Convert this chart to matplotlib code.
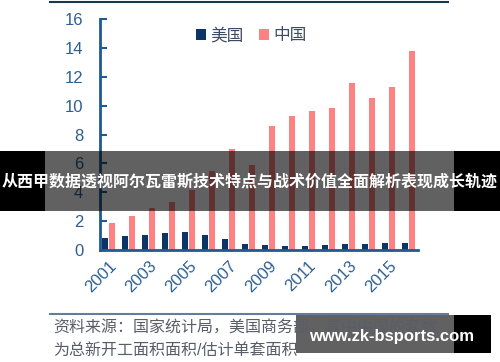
import numpy as np
import matplotlib.pyplot as plt
from matplotlib.patches import Rectangle
from matplotlib.lines import Line2D

plt.rcParams['font.family'] = ['Liberation Sans', 'Noto Sans CJK SC', 'DejaVu Sans']

# Data
years = list(range(2001, 2017))
usa = [0.83, 0.95, 1.06, 1.18, 1.25, 1.02, 0.74, 0.44, 0.35, 0.28, 0.27, 0.35, 0.40, 0.40, 0.47, 0.51]
china = [1.9, 2.33, 2.9, 3.35, 4.13, 5.5, 6.98, 5.89, 8.6, 9.32, 9.64, 9.83, 11.56, 10.52, 11.26, 13.76]
tick_years = [2001, 2003, 2005, 2007, 2009, 2011, 2013, 2015]
legend_labels = ['美国', '中国']
source_lines = ['资料来源：国家统计局，美国商务部，其中中国的套数',
                '为总新开工面积面积/估计单套面积']
banner_text = '从西甲数据透视阿尔瓦雷斯技术特点与战术价值全面解析表现成长轨迹'
url_text = 'www.zk-bsports.com'

navy = '#0a3566'
salmon = '#ff8282'
axis_col = '#1f5a93'
tick_col = '#2d5f93'

fig = plt.figure(figsize=(5, 3.62), dpi=100)
ax = fig.add_axes([0.2, 0.309, 0.636, 0.6385])

x = np.arange(len(years))
w = 0.31
ax.bar(x - 0.175, usa, w, color=navy, label=legend_labels[0])
ax.bar(x + 0.175, china, w, color=salmon, label=legend_labels[1])

ax.set_xlim(-0.43, 15.48)
ax.set_ylim(0, 16)
ax.set_yticks(range(0, 17, 2))
ax.set_xticks([years.index(y) for y in tick_years])
ax.set_xticklabels([str(y) for y in tick_years], rotation=45, ha='right',
                   rotation_mode='anchor', color=tick_col, fontsize=12)
ax.tick_params(axis='x', length=0, pad=6)
ax.tick_params(axis='y', direction='in', length=5, width=1.5, color=axis_col,
               labelcolor=tick_col, labelsize=12, pad=12)
for s in ['top', 'right']:
    ax.spines[s].set_visible(False)
for s in ['left', 'bottom']:
    ax.spines[s].set_color(axis_col)
    ax.spines[s].set_linewidth(2)

leg = ax.legend(loc='center', bbox_to_anchor=(0.476, 0.93), ncol=2, frameon=False,
                handlelength=0.6, handleheight=0.6, handletextpad=0.3,
                columnspacing=0.9, fontsize=12)
for t in leg.get_texts():
    t.set_color('#3b4a66')

# frame lines of the original screenshot
fig.add_artist(Line2D([50 / 500, 448 / 500], [1 - 1.5 / 362] * 2, color='#1a3550', lw=1.5))
fig.add_artist(Line2D([50 / 500, 448 / 500], [1 - 314 / 362] * 2, color='#5f7f9f', lw=1.5))

fig.text(53 / 500, 1 - 328 / 362, source_lines[0], fontsize=11.5, color='#585d68',
         va='center', ha='left')
fig.text(53 / 500, 1 - 350 / 362, source_lines[1], fontsize=11.5, color='#585d68',
         va='center', ha='left')

# watermark banner
fig.add_artist(Rectangle((0, 1 - 211 / 362), 1, 60 / 362, transform=fig.transFigure,
                         color='black', alpha=0.62, lw=0))
fig.add_artist(Rectangle((0, 1 - 211 / 362), 45 / 500, 60 / 362, transform=fig.transFigure,
                         color='black', lw=0))
fig.add_artist(Rectangle((454 / 500, 1 - 211 / 362), 46 / 500, 60 / 362,
                         transform=fig.transFigure, color='black', lw=0))
fig.text(0.5, 1 - 182 / 362, banner_text, fontsize=11.5, color='white', weight='bold',
         ha='center', va='center', family=['Noto Sans CJK SC', 'DejaVu Sans'])

fig.add_artist(Rectangle((296 / 500, 1 - 353 / 362), 158 / 500, 38 / 362,
                         transform=fig.transFigure, color='black', alpha=0.62, lw=0))
fig.add_artist(Rectangle((454 / 500, 1 - 353 / 362), 37 / 500, 38 / 362,
                         transform=fig.transFigure, color='black', lw=0))
fig.text(392 / 500, 1 - 336 / 362, url_text, fontsize=12, color='white', weight='bold',
         ha='center', va='center', family='Liberation Sans')

fig.savefig('out.png', dpi=100)
